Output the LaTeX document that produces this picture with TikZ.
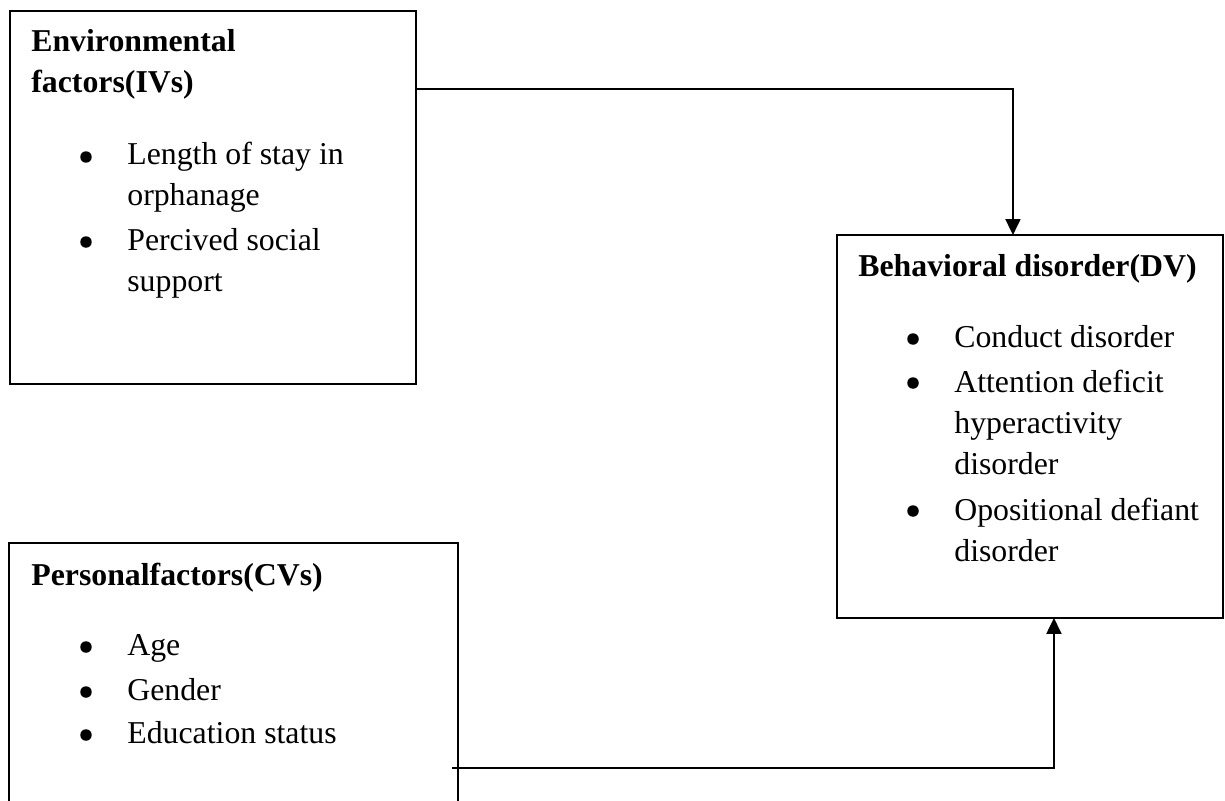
\documentclass[tikz,border=0pt]{standalone}
\usepackage{fontspec}
\setmainfont{Liberation Serif}
\usetikzlibrary{arrows.meta}
\newcommand{\diagfont}{\fontsize{18.1}{23.3}\selectfont}
\tikzset{
  box/.style={draw, line width=1.1pt, inner sep=0pt, outer sep=0pt, anchor=north west},
  title/.style={anchor=base west, inner sep=0pt, font=\diagfont\bfseries, align=left},
  item/.style={anchor=base west, inner sep=0pt, font=\diagfont, align=left},
  dot/.style={circle, fill, inner sep=0pt, minimum size=0.23cm},
  conn/.style={line width=1.1pt, -{Triangle[width=0.3cm,length=0.32cm]}}
}
\begin{document}
\begin{tikzpicture}[x=0.02cm, y=-0.02cm]
\clip (0,0) rectangle (1225,801);
\fill[white] (0,0) rectangle (1225,801);
\node[box, minimum width=8.12cm, minimum height=7.46cm] (env) at (10,11) {};
\node[box, minimum width=7.72cm, minimum height=7.66cm] (behav) at (837,235) {};
\node[box, minimum width=8.98cm, minimum height=6cm] (pers) at (9,543) {};
% multi-line texts sit on the baseline of their last line
\node[title] (envtitle) at (31,92) {Environmental\\factors(IVs)};
\node[dot] (envdot1) at (86,157) {};
\node[item] (envitem1) at (127,205) {Length of stay in\\orphanage};
\node[dot] (envdot2) at (86,242) {};
\node[item] (envitem2) at (127,291) {Percived social\\support};
\node[title] (behavtitle) at (858,276) {Behavioral disorder(DV)};
\node[dot] (behavdot1) at (913,339) {};
\node[item] (behavitem1) at (954,347) {Conduct disorder};
\node[dot] (behavdot2) at (913,383) {};
\node[item] (behavitem2) at (954,474) {Attention deficit\\hyperactivity\\disorder};
\node[dot] (behavdot3) at (913,511) {};
\node[item] (behavitem3) at (954,561) {Opositional defiant\\disorder};
\node[title] (perstitle) at (31,585) {Personalfactors(CVs)};
\node[dot] (persdot1) at (86,647) {};
\node[item] (persitem1) at (127,655) {Age};
\node[dot] (persdot2) at (86,692) {};
\node[item] (persitem2) at (127,700) {Gender};
\node[dot] (persdot3) at (86,735) {};
\node[item] (persitem3) at (127,743) {Education status};
\draw[conn] ([yshift=-1.56cm]env.north east) -| ([xshift=-0.34cm]behav.north);
\draw[conn] ([shift={(-0.12cm,-4.5cm)}]pers.north east) -| ([xshift=0.48cm]behav.south);
\end{tikzpicture}
\end{document}
